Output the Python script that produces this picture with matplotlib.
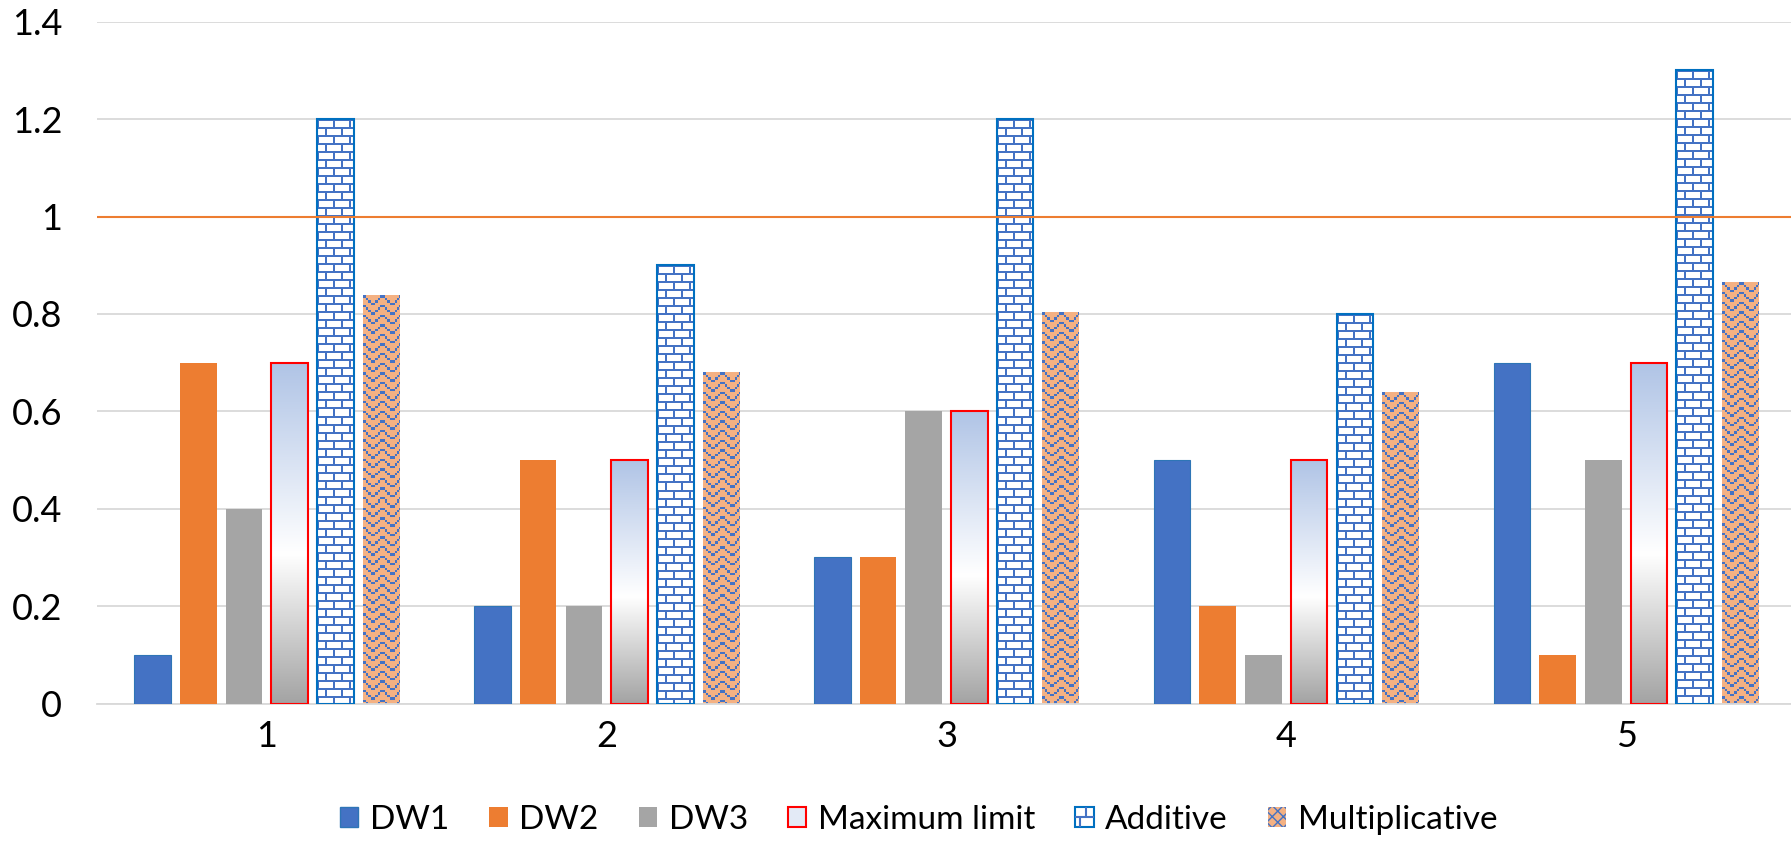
import numpy as np
import matplotlib
matplotlib.use('Agg')
import matplotlib.pyplot as plt
from matplotlib.patches import Patch, Rectangle
from matplotlib.collections import LineCollection
from matplotlib.legend_handler import HandlerBase

plt.rcParams['font.family'] = ['Lato', 'DejaVu Sans']

# data
categories = ['1', '2', '3', '4', '5']
dw1 = [0.1, 0.2, 0.3, 0.5, 0.7]
dw2 = [0.7, 0.5, 0.3, 0.2, 0.1]
dw3 = [0.4, 0.2, 0.6, 0.1, 0.5]
max_limit = [0.7, 0.5, 0.6, 0.5, 0.7]
additive = [1.2, 0.9, 1.2, 0.8, 1.3]
multiplicative = [0.838, 0.68, 0.804, 0.64, 0.865]
threshold = 1.0
series_names = ['DW1', 'DW2', 'DW3', 'Maximum limit', 'Additive', 'Multiplicative']
y_ticks = [0, 0.2, 0.4, 0.6, 0.8, 1.0, 1.2, 1.4]
y_labels = ['0', '0.2', '0.4', '0.6', '0.8', '1', '1.2', '1.4']

BLUE = '#4472C4'
EDGE_BLUE = '#0070C0'
ORANGE = '#ED7D31'
GRAY = '#A5A5A5'
LIGHT_ORANGE = '#F4B183'
W, H = 1791, 841

fig = plt.figure(figsize=(W / 100, H / 100), dpi=100)
ax = fig.add_axes([97 / W, 1 - 703.6 / H, (1796 - 97) / W, (703.6 - 21.7) / H])

x = np.arange(len(categories))
step = 0.1345
width = 0.1076
offs = [(i - 2.5) * step for i in range(6)]

ax.set_xlim(-0.5, len(categories) - 0.5)
ax.set_ylim(0, 1.4)

ax.bar(x + offs[0], dw1, width, color=BLUE, edgecolor='#2E75B6', linewidth=0.8, zorder=3)
ax.bar(x + offs[1], dw2, width, color=ORANGE, linewidth=0, zorder=3)
ax.bar(x + offs[2], dw3, width, color=GRAY, linewidth=0, zorder=3)
mx = ax.bar(x + offs[3], max_limit, width, facecolor='none', edgecolor='#FF0000', linewidth=1.5, zorder=3)
ad = ax.bar(x + offs[4], additive, width, facecolor='none', edgecolor=EDGE_BLUE, linewidth=1.5, zorder=3)
mu = ax.bar(x + offs[5], multiplicative, width, facecolor='none', linewidth=0, zorder=3)


def hex2rgb(h):
    h = h.lstrip('#')
    return np.array([int(h[i:i + 2], 16) for i in (0, 2, 4)]) / 255.0


def pixel_size(rect):
    x0, y0 = rect.get_x(), rect.get_y()
    x1, y1 = x0 + rect.get_width(), y0 + rect.get_height()
    (px0, py0), (px1, py1) = ax.transData.transform([(x0, y0), (x1, y1)])
    return (x0, x1, y0, y1), max(int(round(px1 - px0)), 1), max(int(round(py1 - py0)), 1)


def paint(rect, img):
    ext, _, _ = pixel_size(rect)
    im = ax.imshow(img, extent=ext, origin='upper', aspect='auto',
                   interpolation='nearest', zorder=2.5)
    im.set_clip_path(rect)


# fill styles of the three special series
def gradient(h, w):
    t = np.linspace(0, 1, h)[:, None]
    top, mid, bot = hex2rgb('#B0C4E6'), np.ones(3), hex2rgb('#A3A3A3')
    s = 0.56
    a = np.where(t < s, t / s, 0)
    b = np.where(t >= s, (t - s) / (1 - s), 0)
    col = np.where(t < s, top * (1 - a) + mid * a, mid * (1 - b) + bot * b)
    return np.repeat(col[:, None, :], w, axis=1).reshape(h, w, 3)


def bricks(h, w):
    r, c = np.mgrid[0:h, 0:w]
    row = r // 8
    horiz = (r % 8) < 2
    vert = ((c + 8 * (row % 2)) % 16) < 2
    on = horiz | vert
    img = np.ones((h, w, 3))
    img[on] = hex2rgb(BLUE)
    return img


def zigzag(h, w):
    r, c = np.mgrid[0:h, 0:w]
    bx = np.floor(c / 2.4).astype(int) % 8
    by = np.floor(r / 2.4).astype(int) % 4
    on = by == np.minimum(bx, 7 - bx)
    img = np.tile(hex2rgb(LIGHT_ORANGE), (h, w, 1))
    img[on] = hex2rgb(BLUE)
    return img


for rect in mx:
    _, pw, ph = pixel_size(rect)
    paint(rect, gradient(ph, pw))
for rect in ad:
    _, pw, ph = pixel_size(rect)
    paint(rect, bricks(ph, pw))
for rect in mu:
    _, pw, ph = pixel_size(rect)
    paint(rect, zigzag(ph, pw))

ax.axhline(threshold, color=ORANGE, linewidth=1.5, zorder=4)

ax.set_xticks(x)
ax.set_xticklabels(categories)
ax.set_yticks(y_ticks)
ax.set_yticklabels(y_labels)
ax.tick_params(axis='both', length=0, labelsize=26)
ax.tick_params(axis='y', pad=25)
ax.tick_params(axis='x', pad=12)
ax.yaxis.grid(True, color='#D9D9D9', linewidth=1.3, zorder=0)
ax.set_axisbelow(True)
for s in ['top', 'right', 'left']:
    ax.spines[s].set_visible(False)
ax.spines['bottom'].set_color('#D9D9D9')
ax.spines['bottom'].set_linewidth(1.3)


# small brick icon for the Additive legend entry
class BrickHandler(HandlerBase):
    def create_artists(self, legend, orig_handle, xdescent, ydescent,
                       width, height, fontsize, trans):
        x0, y0 = -xdescent, -ydescent
        box = Rectangle((x0, y0), width, height, facecolor='white',
                        edgecolor=EDGE_BLUE, linewidth=1.5, transform=trans)
        ym = y0 + height / 2
        segs = [[(x0, ym), (x0 + width, ym)],
                [(x0 + 0.6 * width, ym), (x0 + 0.6 * width, y0 + height)],
                [(x0 + 0.25 * width, y0), (x0 + 0.25 * width, ym)]]
        lines = LineCollection(segs, colors=BLUE, linewidths=1.5, transform=trans)
        return [box, lines]


add_handle = Patch(facecolor='white', edgecolor=EDGE_BLUE)
handles = [
    Patch(facecolor=BLUE, edgecolor='#2E75B6', linewidth=1),
    Patch(facecolor=ORANGE, linewidth=0),
    Patch(facecolor=GRAY, linewidth=0),
    Patch(facecolor='#E3EAF6', edgecolor='#FF0000', linewidth=1.5),
    add_handle,
    Patch(facecolor=LIGHT_ORANGE, edgecolor=BLUE, linewidth=0, hatch='xxx'),
]
fig.legend(handles, series_names, loc='center', bbox_to_anchor=(0.513, 1 - 820 / H),
           ncol=6, frameon=False, fontsize=24, handlelength=0.55, handleheight=0.55,
           handletextpad=0.35, columnspacing=1.2,
           handler_map={add_handle: BrickHandler()})

fig.savefig('out.png', dpi=100)
